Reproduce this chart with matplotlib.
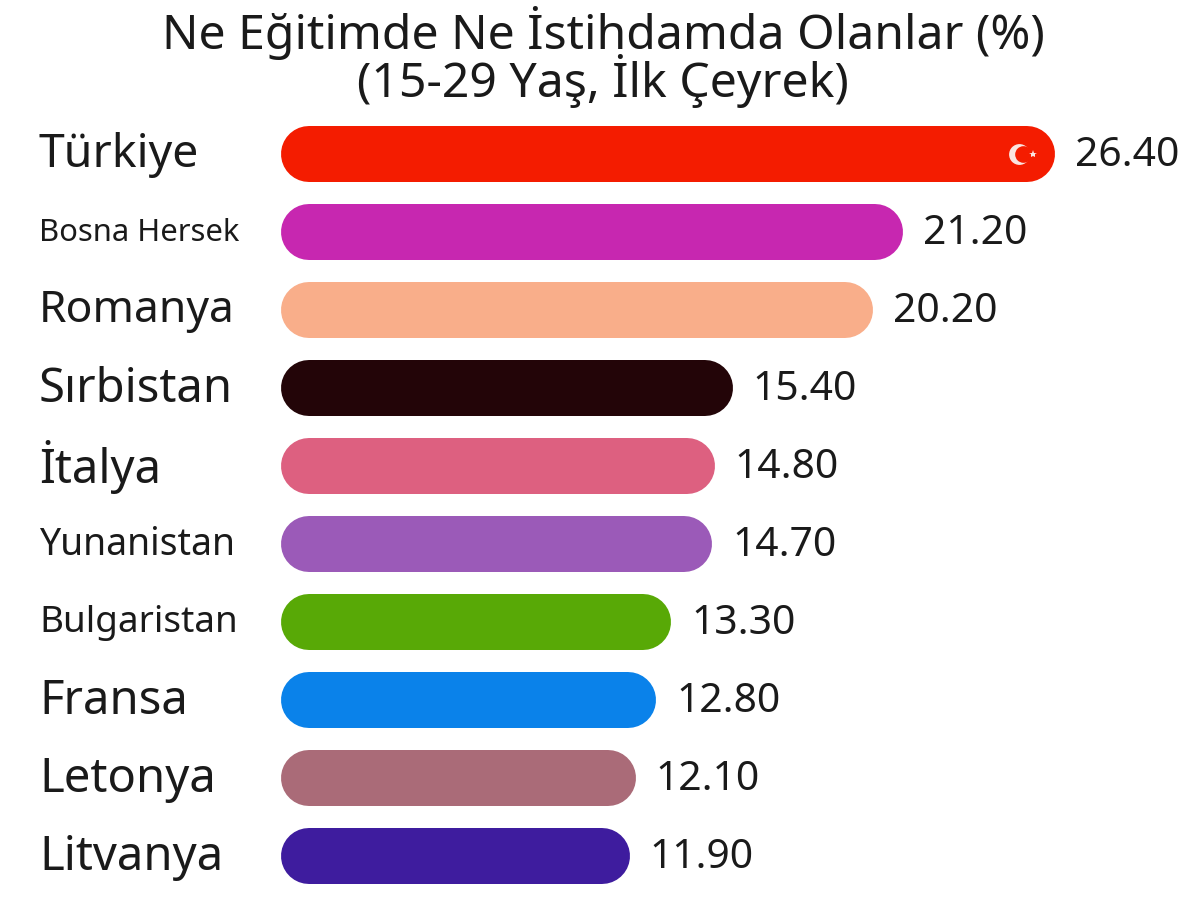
import matplotlib
matplotlib.use('Agg')
import matplotlib.pyplot as plt

countries = ['Türkiye', 'Bosna Hersek', 'Romanya', 'Sırbistan', 'İtalya', 'Yunanistan', 'Bulgaristan', 'Fransa', 'Letonya', 'Litvanya']
values = [26.40, 21.20, 20.20, 15.40, 14.80, 14.70, 13.30, 12.80, 12.10, 11.90]
colors = ['#f41c00', '#c727b0', '#f9ae8a', '#230508', '#dd6080', '#9b5ab8', '#58a906', '#0a82ea', '#aa6b78', '#3e1c9e']
label_sizes = [33.4, 22.3, 32, 34, 34, 26.9, 26.5, 34, 34, 34]

plt.rcParams['font.family'] = ['Noto Sans', 'DejaVu Sans']

W, H = 1200, 910
fig = plt.figure(figsize=(W / 100, H / 100), dpi=100)
x0 = 281
px_per_unit = (1055 - 281) / 26.4
ax = fig.add_axes([0, 0, 1, 1])
ax.set_xlim(-x0 / px_per_unit, (W - x0) / px_per_unit)
ax.set_ylim(9 + 54 / 78, -154 / 78)
ax.axis('off')

# round caps give the pill shape, caps stick out by half the line width
bar_px = 56
cap = (bar_px / 2) / px_per_unit
for i, (name, val, c, fs) in enumerate(zip(countries, values, colors, label_sizes)):
    ax.plot([cap, val - cap], [i, i], color=c, lw=bar_px * 0.72, solid_capstyle='round')
    ax.text(-242 / px_per_unit, i + 1 / 78, name, fontsize=fs, va='center', ha='left', color='#1a1a1a')
    ax.text(val + 20 / px_per_unit, i + 2 / 78, '%.2f' % val, fontsize=29.4, va='center', ha='left', color='#1a1a1a')

# small flag on the first bar
fx = values[0] - 36 / px_per_unit
ax.plot([fx], [0], marker='o', ms=15, color='#fbe4e0', mew=0)
ax.plot([fx + 4 / px_per_unit], [0], marker='o', ms=12, color=colors[0], mew=0)
ax.plot([values[0] - 22 / px_per_unit], [0], marker='*', ms=6, color='#fbe4e0', mew=0)

fig.text(603 / W, 1 - 57 / H, 'Ne Eğitimde Ne İstihdamda Olanlar (%)\n(15-29 Yaş, İlk Çeyrek)', fontsize=34.7,
         ha='center', va='center', multialignment='center', linespacing=0.86, color='#1a1a1a')

fig.savefig('out.png', dpi=100)
